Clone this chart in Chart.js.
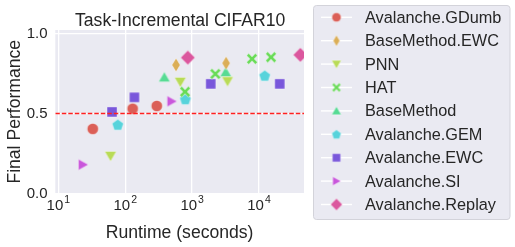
<!DOCTYPE html>
<html><head><meta charset="utf-8">
<script src="https://cdn.jsdelivr.net/npm/chart.js@4"></script>
<style>html,body{margin:0;padding:0;background:#fff;}</style>
</head><body>
<canvas id="c" width="515" height="247" style="width:515px;height:247px;display:block"></canvas>
<script>
// ---- data (runtime in seconds, final performance) ----
const methodNames = ["Avalanche.GDumb","BaseMethod.EWC","PNN","HAT","BaseMethod","Avalanche.GEM","Avalanche.EWC","Avalanche.SI","Avalanche.Replay"];
const gdumbX = [32.7, 129, 296];            const gdumbY = [0.403, 0.529, 0.546];
const bmEwcX = [574, 3214];                 const bmEwcY = [0.802, 0.813];
const pnnX = [60.3, 664, 3383];             const pnnY = [0.234, 0.696, 0.700];
const hatX = [783, 2223, 7850, 15100];      const hatY = [0.635, 0.746, 0.840, 0.850];
const baseX = [384, 3177];                  const baseY = [0.725, 0.757];
const gemX = [77.3, 791, 12160];            const gemY = [0.429, 0.588, 0.735];
const avEwcX = [63.5, 137, 1897, 20370];    const avEwcY = [0.509, 0.600, 0.684, 0.684];
const siX = [23.4, 495];                    const siY = [0.180, 0.575];
const replayX = [860, 41400];               const replayY = [0.848, 0.865];
const xTickValues = [10, 100, 1000, 10000];
const xTickExponents = ["1", "2", "3", "4"];
const yTickValues = [0, 0.5, 1.0];
const yTickLabels = ["0.0", "0.5", "1.0"];
const thresholdY = 0.5;

const seriesX = [gdumbX, bmEwcX, pnnX, hatX, baseX, gemX, avEwcX, siX, replayX];
const seriesY = [gdumbY, bmEwcY, pnnY, hatY, baseY, gemY, avEwcY, siY, replayY];
const colors = ["#db5f57","#dbae57","#b9db57","#69db57","#57db94","#57d3db","#7957db","#c957db","#db579e"];
const shapes = ["circle","thinDiamond","triDown","xFilled","triUp","pentagon","square","triRight","diamond"];

const FONT = '"Liberation Sans", Arial, "Helvetica", sans-serif';
const TXT = '#262626';

function makeMarker(shape, color, k) {
  const S = 22;
  const cv = document.createElement('canvas');
  cv.width = S; cv.height = S;
  const c = cv.getContext('2d');
  c.translate(S/2, S/2);
  c.scale(k, k);
  c.fillStyle = color;
  c.strokeStyle = 'rgba(255,255,255,0.55)';
  c.lineWidth = 0.7 / k;
  c.beginPath();
  const poly = (pts) => { c.moveTo(pts[0][0], pts[0][1]); for (let i=1;i<pts.length;i++) c.lineTo(pts[i][0], pts[i][1]); c.closePath(); };
  switch (shape) {
    case 'circle': c.arc(0,0,5.6,0,Math.PI*2); break;
    case 'thinDiamond': poly([[0,-6.8],[4.1,0],[0,6.8],[-4.1,0]]); break;
    case 'triDown': poly([[-5.8,-4.6],[5.8,-4.6],[0,5.4]]); break;
    case 'triUp': poly([[-5.8,4.6],[5.8,4.6],[0,-5.4]]); break;
    case 'triRight': poly([[-4.6,-5.4],[-4.6,5.4],[5.4,0]]); break;
    case 'square': poly([[-5,-5],[5,-5],[5,5],[-5,5]]); break;
    case 'diamond': poly([[0,-7.2],[7.2,0],[0,7.2],[-7.2,0]]); break;
    case 'pentagon': {
      const pts=[]; for (let i=0;i<5;i++){ const a=-Math.PI/2 + i*2*Math.PI/5; pts.push([6*Math.cos(a), 6*Math.sin(a)+0.5]); }
      poly(pts); break;
    }
    case 'xFilled': {
      const a=5.4, t=2.1;
      poly([[-a+t,-a],[0,-t],[a-t,-a],[a,-a+t],[t,0],[a,a-t],[a-t,a],[0,t],[-a+t,a],[-a,a-t],[-t,0],[-a,-a+t]]);
      break;
    }
  }
  c.fill();
  c.stroke();
  return cv;
}

const plotMarkers = shapes.map((s,i) => makeMarker(s, colors[i], 1));
const legendMarkers = shapes.map((s,i) => makeMarker(s, colors[i], 0.82));

const datasets = methodNames.map((name, i) => ({
  label: name,
  data: seriesX[i].map((x, j) => ({x: x, y: seriesY[i][j]})),
  pointStyle: plotMarkers[i],
  pointRadius: 6,
  backgroundColor: colors[i],
  borderColor: colors[i],
  showLine: false,
  clip: 0
}));

const decor = {
  id: 'decor',
  beforeDraw(chart) {
    const {ctx, chartArea: a} = chart;
    ctx.save();
    ctx.fillStyle = '#eaeaf2';
    ctx.fillRect(a.left, a.top, a.right - a.left, a.bottom - a.top);
    ctx.restore();
  },
  afterDatasetsDraw(chart) {
    const {ctx, chartArea: a} = chart;
    const y = Math.round(chart.scales.y.getPixelForValue(thresholdY)) + 0.5;
    ctx.save();
    ctx.beginPath();
    ctx.rect(a.left, a.top, a.right - a.left, a.bottom - a.top);
    ctx.clip();
    ctx.strokeStyle = '#ff2020';
    ctx.lineWidth = 1.5;
    ctx.setLineDash([4.5, 2]);
    ctx.beginPath();
    ctx.moveTo(a.left, y);
    ctx.lineTo(a.right, y);
    ctx.stroke();
    ctx.restore();
  },
  afterDraw(chart) {
    const {ctx, chartArea: a} = chart;
    const xs = chart.scales.x, ys = chart.scales.y;
    const cx = (a.left + a.right) / 2;
    ctx.save();
    ctx.fillStyle = TXT;
    // title
    ctx.font = '17.6px ' + FONT;
    ctx.textAlign = 'center';
    ctx.textBaseline = 'alphabetic';
    ctx.fillText('Task-Incremental CIFAR10', cx + 0.5, 26);
    // x label
    ctx.fillText('Runtime (seconds)', cx, 237.5);
    // y label
    ctx.save();
    ctx.translate(19.5, (a.top + a.bottom) / 2);
    ctx.rotate(-Math.PI / 2);
    ctx.fillText('Final Performance', 0, 0);
    ctx.restore();
    // y ticks
    ctx.font = '15px ' + FONT;
    ctx.textAlign = 'right';
    ctx.textBaseline = 'middle';
    yTickValues.forEach((v, i) => {
      ctx.fillText(yTickLabels[i], 47.5, ys.getPixelForValue(v) + 0.8);
    });
    // x ticks with superscript
    ctx.textAlign = 'left';
    ctx.textBaseline = 'alphabetic';
    xTickValues.forEach((v, i) => {
      const px = xs.getPixelForValue(v);
      ctx.font = '15px ' + FONT;
      const w1 = ctx.measureText('10').width;
      ctx.font = '10.5px ' + FONT;
      const w2 = ctx.measureText(xTickExponents[i]).width;
      const total = w1 + 1 + w2;
      const x0 = px - total / 2;
      ctx.font = '15px ' + FONT;
      ctx.fillText('10', x0, 209.5);
      ctx.font = '10.5px ' + FONT;
      ctx.fillText(xTickExponents[i], x0 + w1 + 1, 202.5);
    });
    // legend
    const lx = 313.5, ly = 5.5, lw = 196.5, lh = 214;
    ctx.beginPath();
    const r = 3;
    ctx.moveTo(lx + r, ly);
    ctx.arcTo(lx + lw, ly, lx + lw, ly + lh, r);
    ctx.arcTo(lx + lw, ly + lh, lx, ly + lh, r);
    ctx.arcTo(lx, ly + lh, lx, ly, r);
    ctx.arcTo(lx, ly, lx + lw, ly, r);
    ctx.closePath();
    ctx.fillStyle = '#eaeaf2';
    ctx.fill();
    ctx.strokeStyle = '#d3d3da';
    ctx.lineWidth = 1;
    ctx.stroke();
    ctx.font = '16.3px ' + FONT;
    ctx.textAlign = 'left';
    ctx.textBaseline = 'middle';
    chart.data.datasets.forEach((ds, i) => {
      const yy = 17.3 + i * 23.4;
      ctx.strokeStyle = '#ffffff';
      ctx.lineWidth = 1.4;
      ctx.beginPath();
      ctx.moveTo(321, yy);
      ctx.lineTo(352, yy);
      ctx.stroke();
      const m = legendMarkers[i];
      ctx.drawImage(m, 336.5 - m.width / 2, yy - m.height / 2);
      ctx.fillStyle = TXT;
      ctx.fillText(ds.label, 365, yy + 1);
    });
    ctx.restore();
  }
};

new Chart(document.getElementById('c'), {
  type: 'scatter',
  data: { datasets },
  options: {
    responsive: false,
    animation: false,
    devicePixelRatio: 1,
    events: [],
    layout: { padding: { left: 55.3, right: 211, top: 30, bottom: 53.5 } },
    plugins: { legend: { display: false }, tooltip: { enabled: false }, title: { display: false } },
    scales: {
      x: {
        type: 'logarithmic', min: 9.0, max: 47000,
        grid: { color: '#ffffff', lineWidth: 1.3, drawTicks: false },
        border: { display: false },
        ticks: { display: false },
        afterBuildTicks(scale) { scale.ticks = xTickValues.map(v => ({ value: v })); }
      },
      y: {
        type: 'linear', min: 0, max: 1.02,
        grid: { color: '#ffffff', lineWidth: 1.3, drawTicks: false },
        border: { display: false },
        ticks: { display: false },
        afterBuildTicks(scale) { scale.ticks = yTickValues.map(v => ({ value: v })); }
      }
    }
  },
  plugins: [decor]
});
</script>
</body></html>
